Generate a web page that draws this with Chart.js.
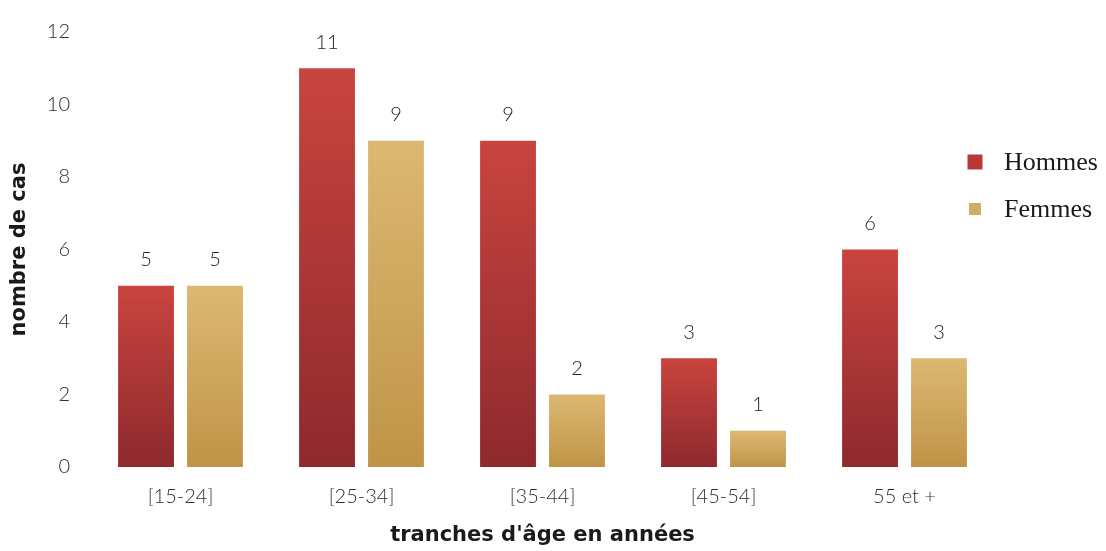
<!DOCTYPE html>
<html>
<head>
<meta charset="utf-8">
<script src="https://cdn.jsdelivr.net/npm/chart.js@4/dist/chart.umd.min.js"></script>
<style>
  html, body { margin: 0; padding: 0; background: #ffffff; }
  #wrap { width: 1106px; height: 551px; position: relative; }
</style>
</head>
<body>
<div id="wrap"><canvas id="c" width="1106" height="551"></canvas></div>
<script>
// Age groups and case counts
const categories = ["[15-24]", "[25-34]", "[35-44]", "[45-54]", "55 et +"];
const hommes = [5, 11, 9, 3, 6];
const femmes = [5, 9, 2, 1, 3];
const yTicks = [0, 2, 4, 6, 8, 10, 12];

const labelFont = "Lato, 'DejaVu Sans', sans-serif";
const titleFont = "'DejaVu Sans', Lato, sans-serif";

// Vertical gradient for each bar, light at the top and darker at the base
function barGradient(top, bottom) {
  return function (context) {
    const chart = context.chart;
    const { ctx, chartArea } = chart;
    if (!chartArea || context.type !== 'data') return bottom;
    const y = chart.scales.y;
    const v = context.raw;
    const y0 = y.getPixelForValue(v);
    const y1 = y.getPixelForValue(0);
    const g = ctx.createLinearGradient(0, y0, 0, y1 === y0 ? y0 + 1 : y1);
    g.addColorStop(0, top);
    g.addColorStop(1, bottom);
    return g;
  };
}

// Value written above every bar
const valueLabels = {
  id: 'valueLabels',
  afterDatasetsDraw(chart) {
    const ctx = chart.ctx;
    ctx.save();
    ctx.font = "300 20px " + labelFont;
    ctx.fillStyle = "#222222";
    ctx.textAlign = "center";
    ctx.textBaseline = "middle";
    chart.data.datasets.forEach((ds, i) => {
      chart.getDatasetMeta(i).data.forEach((bar, j) => {
        ctx.fillText(String(ds.data[j]), bar.x, bar.y - 26);
      });
    });
    ctx.restore();
  }
};

// Legend on the right side
const sideLegend = {
  id: 'sideLegend',
  afterDraw(chart) {
    const ctx = chart.ctx;
    ctx.save();
    ctx.font = "26px 'Liberation Serif', 'Times New Roman', serif";
    ctx.textBaseline = "middle";
    ctx.textAlign = "left";
    const items = [
      { text: "Hommes", color: "#b8393a", size: 15, y: 162 },
      { text: "Femmes", color: "#cfac68", size: 12, y: 209 }
    ];
    items.forEach(it => {
      ctx.fillStyle = it.color;
      ctx.fillRect(975 - it.size / 2, it.y - it.size / 2, it.size, it.size);
      ctx.fillStyle = "#1a1a1a";
      ctx.fillText(it.text, 1004, it.y + 1);
    });
    ctx.restore();
  }
};

new Chart(document.getElementById('c'), {
  type: 'bar',
  data: {
    labels: categories,
    datasets: [
      {
        label: "Hommes",
        data: hommes,
        backgroundColor: barGradient("#c9443f", "#8e292d"),
        barPercentage: 0.81,
        categoryPercentage: 0.762
      },
      {
        label: "Femmes",
        data: femmes,
        backgroundColor: barGradient("#ddb872", "#bf9447"),
        barPercentage: 0.81,
        categoryPercentage: 0.762
      }
    ]
  },
  options: {
    responsive: false,
    animation: false,
    devicePixelRatio: 1,
    layout: { padding: { top: 27, right: 111, bottom: 0, left: 0 } },
    plugins: {
      legend: { display: false },
      tooltip: { enabled: false }
    },
    scales: {
      x: {
        grid: { display: false, drawTicks: false },
        border: { display: false },
        ticks: {
          color: "#2e2e2e",
          font: { family: labelFont, size: 20, weight: 300 },
          padding: 18
        },
        title: {
          display: true,
          text: "tranches d'âge en années",
          color: "#1a1a1a",
          font: { family: titleFont, size: 21, weight: 'bold' },
          padding: { top: 0, bottom: 3 }
        },
        afterFit(scale) { scale.height = 84; }
      },
      y: {
        min: 0,
        max: 12,
        afterBuildTicks(scale) { scale.ticks = yTicks.map(v => ({ value: v })); },
        grid: { display: false, drawTicks: false },
        border: { display: false },
        ticks: {
          color: "#2e2e2e",
          font: { family: labelFont, size: 20, weight: 300 },
          padding: 20
        },
        title: {
          display: true,
          text: "nombre de cas",
          color: "#1a1a1a",
          font: { family: titleFont, size: 21, weight: 'bold' },
          padding: { top: 7, bottom: 0 }
        },
        afterFit(scale) { scale.width = 90; }
      }
    }
  },
  plugins: [valueLabels, sideLegend]
});
</script>
</body>
</html>
